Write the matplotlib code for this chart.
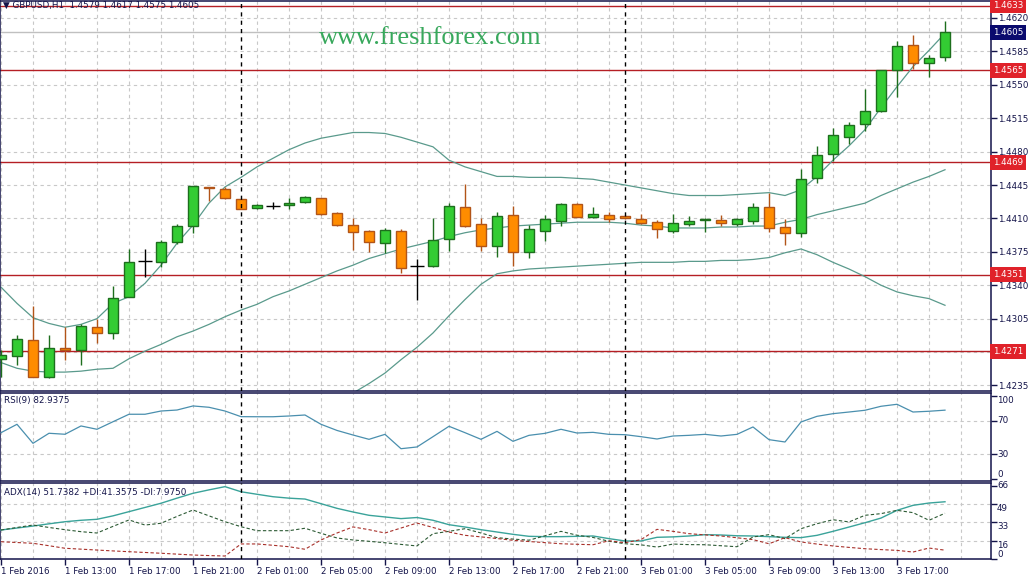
import matplotlib
matplotlib.use("Agg")
import matplotlib.pyplot as plt
from matplotlib.transforms import offset_copy
import numpy as np

plt.rcParams['font.family'] = ['DejaVu Sans']

# ---------------- data ----------------
symbol = "GBPUSD,H1"
x_tick_idx = [0, 4, 8, 12, 16, 20, 24, 28, 32, 36, 40, 44, 48, 52, 56]
x_tick_labels = ["1 Feb 2016", "1 Feb 13:00", "1 Feb 17:00", "1 Feb 21:00",
                 "2 Feb 01:00", "2 Feb 05:00", "2 Feb 09:00", "2 Feb 13:00",
                 "2 Feb 17:00", "2 Feb 21:00", "3 Feb 01:00", "3 Feb 05:00",
                 "3 Feb 09:00", "3 Feb 13:00", "3 Feb 17:00"]
day_breaks = [15, 39]

opens = [1.4263, 1.4266, 1.4283, 1.4244, 1.4274, 1.4272, 1.4296, 1.4290, 1.4328, 1.4365,
         1.4364, 1.4385, 1.4402, 1.4443, 1.4441, 1.4430, 1.4421, 1.4423, 1.4424, 1.4427,
         1.4431, 1.4416, 1.4403, 1.4397, 1.4384, 1.4397, 1.4360, 1.4360, 1.4388, 1.4422,
         1.4404, 1.4381, 1.4414, 1.4375, 1.4397, 1.4407, 1.4425, 1.4412, 1.4414, 1.4413,
         1.4409, 1.4406, 1.4397, 1.4404, 1.4408, 1.4408, 1.4404, 1.4407, 1.4422, 1.4401,
         1.4395, 1.4452, 1.4478, 1.4495, 1.4509, 1.4523, 1.4566, 1.4592, 1.4573, 1.4579]
highs = [1.4272, 1.4288, 1.4318, 1.4288, 1.4296, 1.4299, 1.4305, 1.4339, 1.4378, 1.4378,
         1.4387, 1.4404, 1.4444, 1.4443, 1.4443, 1.4430, 1.4425, 1.4427, 1.4431, 1.4434,
         1.4431, 1.4417, 1.4410, 1.4398, 1.4400, 1.4399, 1.4367, 1.4410, 1.4426, 1.4446,
         1.4410, 1.4417, 1.4423, 1.4403, 1.4414, 1.4426, 1.4426, 1.4422, 1.4417, 1.4414,
         1.4415, 1.4408, 1.4415, 1.4413, 1.4410, 1.4414, 1.4410, 1.4426, 1.4437, 1.4409,
         1.4462, 1.4486, 1.4505, 1.4511, 1.4546, 1.4566, 1.4596, 1.4602, 1.4581, 1.4617]
lows = [1.4244, 1.4256, 1.4244, 1.4243, 1.4262, 1.4256, 1.4280, 1.4284, 1.4328, 1.4349,
        1.4359, 1.4383, 1.4395, 1.4428, 1.4430, 1.4420, 1.4420, 1.4420, 1.4420, 1.4426,
        1.4414, 1.4402, 1.4377, 1.4375, 1.4374, 1.4353, 1.4325, 1.4359, 1.4376, 1.4401,
        1.4376, 1.4370, 1.4360, 1.4369, 1.4386, 1.4402, 1.4411, 1.4410, 1.4406, 1.4409,
        1.4404, 1.4390, 1.4395, 1.4402, 1.4396, 1.4402, 1.4402, 1.4404, 1.4396, 1.4382,
        1.4391, 1.4447, 1.4470, 1.4488, 1.4502, 1.4521, 1.4537, 1.4567, 1.4558, 1.4575]
closes = [1.4267, 1.4284, 1.4244, 1.4274, 1.4272, 1.4297, 1.4290, 1.4327, 1.4364, 1.4365,
          1.4385, 1.4402, 1.4444, 1.4442, 1.4431, 1.4420, 1.4424, 1.4423, 1.4426, 1.4432,
          1.4415, 1.4403, 1.4396, 1.4385, 1.4398, 1.4358, 1.4360, 1.4387, 1.4423, 1.4402,
          1.4381, 1.4413, 1.4375, 1.4399, 1.4409, 1.4425, 1.4412, 1.4415, 1.4409, 1.4410,
          1.4405, 1.4399, 1.4405, 1.4407, 1.4409, 1.4405, 1.4409, 1.4422, 1.4400, 1.4395,
          1.4451, 1.4476, 1.4497, 1.4508, 1.4523, 1.4566, 1.4591, 1.4573, 1.4578, 1.4605]

nan = float('nan')
bb_upper = [1.4338, 1.4321, 1.4306, 1.4300, 1.4296, 1.4299, 1.4305, 1.4321, 1.4328, 1.4342,
            1.4361, 1.4384, 1.4403, 1.4426, 1.4443, 1.4453, 1.4464, 1.4473, 1.4482, 1.4489,
            1.4494, 1.4497, 1.4500, 1.4500, 1.4499, 1.4495, 1.4490, 1.4485, 1.4471, 1.4464,
            1.4459, 1.4454, 1.4454, 1.4453, 1.4453, 1.4453, 1.4452, 1.4451, 1.4448, 1.4445,
            1.4442, 1.4439, 1.4436, 1.4434, 1.4434, 1.4434, 1.4435, 1.4436, 1.4437, 1.4434,
            1.4440, 1.4454, 1.4471, 1.4486, 1.4503, 1.4526, 1.4548, 1.4569, 1.4586, 1.4604]
bb_middle = [1.4259, 1.4253, 1.4250, 1.4249, 1.4249, 1.4250, 1.4252, 1.4253, 1.4263, 1.4271,
             1.4278, 1.4286, 1.4292, 1.4299, 1.4307, 1.4314, 1.4320, 1.4328, 1.4334, 1.4341,
             1.4348, 1.4355, 1.4361, 1.4368, 1.4373, 1.4378, 1.4382, 1.4386, 1.4391, 1.4395,
             1.4398, 1.4400, 1.4402, 1.4403, 1.4404, 1.4405, 1.4406, 1.4406, 1.4406, 1.4405,
             1.4403, 1.4402, 1.4400, 1.4400, 1.4400, 1.4401, 1.4401, 1.4402, 1.4402, 1.4406,
             1.4409, 1.4414, 1.4418, 1.4422, 1.4426, 1.4434, 1.4441, 1.4448, 1.4454, 1.4461]
bb_lower = [nan] * 20 + [
             1.4201, 1.4213, 1.4227, 1.4237, 1.4248, 1.4262, 1.4275, 1.4290, 1.4308, 1.4325,
             1.4341, 1.4352, 1.4355, 1.4357, 1.4358, 1.4359, 1.4360, 1.4361, 1.4362, 1.4363,
             1.4364, 1.4364, 1.4364, 1.4365, 1.4365, 1.4366, 1.4366, 1.4367, 1.4369, 1.4374,
             1.4378, 1.4372, 1.4364, 1.4357, 1.4349, 1.4340, 1.4333, 1.4329, 1.4326, 1.4319]

rsi = [55.8, 65.9, 43.0, 55.1, 53.9, 63.9, 59.9, 69.0, 78.0, 78.0,
       81.9, 83.1, 88.0, 86.4, 81.9, 75.1, 75.0, 75.0, 75.9, 77.1,
       65.9, 58.5, 53.0, 47.8, 53.8, 36.5, 38.6, 51.0, 63.5, 55.8,
       47.8, 57.4, 45.4, 52.6, 55.0, 59.9, 55.4, 56.2, 53.8, 53.4,
       51.0, 48.2, 51.8, 52.6, 53.8, 51.8, 53.8, 62.7, 47.4, 44.6,
       68.7, 75.5, 78.7, 80.7, 82.8, 87.6, 90.0, 80.7, 81.6, 82.9375]
adx = [26.2, 28.0, 29.8, 31.8, 33.7, 35.0, 35.9, 39.0, 42.8, 46.6,
       50.4, 55.0, 59.4, 62.5, 65.4, 60.8, 58.5, 56.3, 55.0, 54.2,
       50.0, 45.8, 42.5, 39.5, 38.0, 36.5, 37.5, 35.0, 31.0, 28.9,
       26.5, 24.4, 22.3, 20.5, 20.2, 20.2, 20.5, 20.8, 18.4, 16.3,
       16.3, 19.6, 20.0, 20.8, 22.0, 21.7, 21.0, 20.8, 20.2, 19.6,
       19.3, 21.4, 25.0, 28.9, 32.8, 37.0, 44.0, 48.5, 50.6, 51.7382]
plus_di = [26.2, 28.5, 30.7, 28.5, 26.5, 24.7, 23.5, 29.5, 35.3, 30.7,
           32.3, 38.5, 44.3, 39.0, 33.7, 29.2, 25.6, 25.6, 25.6, 27.8,
           23.2, 19.0, 17.2, 16.0, 14.7, 13.2, 11.8, 22.9, 25.0, 27.4,
           23.5, 19.3, 18.0, 17.0, 21.0, 25.0, 21.5, 19.5, 16.0, 13.8,
           12.8, 10.8, 13.5, 13.0, 12.9, 12.0, 11.1, 19.9, 22.0, 18.4,
           27.4, 31.9, 35.5, 33.5, 39.5, 41.0, 44.0, 41.9, 35.0, 41.3575]
minus_di = [15.6, 14.9, 14.2, 12.0, 9.7, 8.9, 8.1, 7.3, 6.6, 5.9,
            5.2, 4.4, 3.6, 3.1, 2.7, 13.6, 13.6, 12.4, 11.1, 8.8,
            17.2, 23.5, 29.0, 26.5, 23.5, 28.0, 32.5, 28.5, 24.4, 21.4,
            20.0, 18.5, 16.9, 15.8, 14.8, 13.8, 13.3, 12.9, 16.5, 14.7,
            17.5, 26.8, 25.0, 22.9, 21.8, 20.8, 19.2, 17.5, 13.8, 19.3,
            15.4, 13.5, 11.8, 10.5, 9.3, 8.5, 7.8, 6.3, 9.9, 7.975]

levels = [1.4633, 1.4565, 1.4469, 1.4351, 1.4271]
price_ticks = [1.4235, 1.4270, 1.4305, 1.4340, 1.4375, 1.4410, 1.4445,
               1.4480, 1.4515, 1.4550, 1.4585, 1.4620]
hidden_price_labels = [1.4270]
rsi_ticks = [0, 30, 70, 100]
adx_ticks = [0, 16.5, 33, 49.5, 66]

# ---------------- style ----------------
W, H, DPI = 1033, 581, 100
AXC = '#14144a'
TXT = '#14144a'
GRID = '#c8c8c8'
FS = 6.3
GREEN_F, GREEN_E = '#33cc33', '#1d6e1d'
ORANGE_F, ORANGE_E = '#ff8c00', '#b25418'
BAND = '#5a9a8c'
LEVEL = '#b51f24'

fig = plt.figure(figsize=(W / DPI, H / DPI), dpi=DPI)
fig.patch.set_facecolor('white')


def rect(top, bottom, left=0.0, right=991.0):
    return [left / W, 1 - bottom / H, (right - left) / W, (bottom - top) / H]


ax_p = fig.add_axes(rect(0.5, 391))
ax_r = fig.add_axes(rect(393, 481))
ax_a = fig.add_axes(rect(483, 559))

x = np.arange(len(opens))
o, h, l, c = (np.array(v) for v in (opens, highs, lows, closes))

for ax in (ax_p, ax_r, ax_a):
    ax.set_xlim(-0.0625, 61.875)
    ax.set_facecolor('white')
    ax.yaxis.tick_right()
    ax.tick_params(axis='y', direction='out', length=4, width=1, color=AXC,
                   labelsize=FS, labelcolor=TXT, pad=1)
    for s in ax.spines.values():
        s.set_color(AXC)
        s.set_linewidth(1.1)
    for xi in range(0, 62, 2):
        ax.axvline(xi, color=GRID, lw=0.8, ls=(0, (3, 3)), zorder=0)
    for d in day_breaks:
        ax.axvline(d, color='black', lw=1, ls=(0, (3, 3)), zorder=6)

for ax in (ax_p, ax_r):
    ax.tick_params(axis='x', bottom=False, labelbottom=False)

# ---------------- price panel ----------------
ax_p.set_ylim(1.42292, 1.46383)
ax_p.set_yticks(price_ticks)
ax_p.set_yticklabels(["" if v in hidden_price_labels else f"{v:.4f}" for v in price_ticks])
for v in price_ticks:
    ax_p.axhline(v, color=GRID, lw=0.8, ls=(0, (3, 3)), zorder=0)

ax_p.axhline(c[-1], color='#c0c0c0', lw=1, zorder=1)
for lv in levels:
    ax_p.axhline(lv, color=LEVEL, lw=1, zorder=2)

ax_p.plot(x, bb_upper, color=BAND, lw=0.9, zorder=2.5)
ax_p.plot(x, bb_middle, color=BAND, lw=0.9, zorder=2.5)
ax_p.plot(x, bb_lower, color=BAND, lw=0.9, zorder=2.5)

up = c > o
dn = c < o
dj = c == o
bw = 0.6
for mask, fc, ec in ((up, GREEN_F, GREEN_E), (dn, ORANGE_F, ORANGE_E)):
    ax_p.vlines(x[mask], l[mask], h[mask], color=ec, lw=1, zorder=3)
    ax_p.bar(x[mask], np.abs(c - o)[mask], bottom=np.minimum(o, c)[mask], width=bw,
             color=fc, edgecolor=ec, lw=1, zorder=4)
ax_p.vlines(x[dj], l[dj], h[dj], color='black', lw=1, zorder=3)
ax_p.hlines(o[dj], x[dj] - 0.45, x[dj] + 0.45, color='black', lw=1, zorder=4)

box_tr = offset_copy(ax_p.get_yaxis_transform(), fig=fig, x=2, y=0, units='dots')
for lv in levels:
    ax_p.text(1.0, lv, f"{lv:.4f}", transform=box_tr, ha='left', va='center', fontsize=FS,
              color='white', clip_on=False, zorder=10,
              bbox=dict(boxstyle='square,pad=0.35', fc='#e0222a', ec='none'))
ax_p.text(1.0, c[-1], f"{c[-1]:.4f}", transform=box_tr, ha='left', va='center', fontsize=FS,
          color='white', clip_on=False, zorder=10,
          bbox=dict(boxstyle='square,pad=0.35', fc='#0a0a6e', ec='none'))

# ---------------- RSI panel ----------------
ax_r.plot(x, rsi, color='#4a8fae', lw=0.9, zorder=3)
ax_r.set_ylim(-2.4, 103.6)
ax_r.set_yticks(rsi_ticks)
ax_r.set_yticklabels([])
for v in (30, 70):
    ax_r.axhline(v, color=GRID, lw=0.8, ls=(0, (3, 3)), zorder=0)

# ---------------- ADX panel ----------------
ax_a.plot(x, adx, color='#3aa39a', lw=1.0, zorder=3)
ax_a.plot(x, plus_di, color='#2c5a34', lw=0.8, ls=(0, (3, 2)), zorder=3)
ax_a.plot(x, minus_di, color='#a8302a', lw=0.8, ls=(0, (3, 2)), zorder=3)
ax_a.set_ylim(0, 68.7)
ax_a.set_yticks(adx_ticks)
ax_a.set_yticklabels([])
for v in adx_ticks[1:4]:
    ax_a.axhline(v, color=GRID, lw=0.8, ls=(0, (3, 3)), zorder=0)

ax_a.set_xticks(x_tick_idx)
ax_a.set_xticklabels(x_tick_labels)
ax_a.tick_params(axis='x', direction='out', length=4, width=1, color=AXC,
                 labelsize=FS, labelcolor=TXT, pad=2)
for lab in ax_a.get_xticklabels():
    lab.set_horizontalalignment('left')


def right_label(ax, val, text, va):
    tr = offset_copy(ax.get_yaxis_transform(), fig=fig, x=6, y=0, units='dots')
    ax.text(1.0, val, text, transform=tr, ha='left', va=va, fontsize=FS,
            color=TXT, clip_on=False)


right_label(ax_r, 100, "100", 'top')
right_label(ax_r, 70, "70", 'center')
right_label(ax_r, 30, "30", 'center')
right_label(ax_r, 0, "0", 'bottom')
right_label(ax_a, 66, "66", 'center')
right_label(ax_a, 49.5, "49", 'top')
right_label(ax_a, 33, "33", 'top')
right_label(ax_a, 16.5, "16", 'top')
right_label(ax_a, 0, "0", 'bottom')

# ---------------- texts ----------------
header = "\u25BC " + symbol + "  " + " ".join(f"{v:.4f}" for v in (o[-1], h[-1], l[-1], c[-1]))
fig.text(3 / W, 1 - 5.5 / H, header, ha='left', va='center', fontsize=FS, color=TXT)
fig.text(4 / W, 1 - 401 / H, f"RSI(9) {rsi[-1]:.4f}", ha='left', va='center',
         fontsize=FS, color=TXT)
fig.text(4 / W, 1 - 492 / H,
         f"ADX(14) {adx[-1]:.4f} +DI:{plus_di[-1]:.4f} -DI:{minus_di[-1]:.4f}",
         ha='left', va='center', fontsize=FS, color=TXT)
fig.text(430 / W, 1 - 38 / H, "www.freshforex.com", ha='center', va='center',
         fontsize=19, family='Liberation Serif', color='#38a85c')

fig.savefig('out.png', dpi=DPI)
